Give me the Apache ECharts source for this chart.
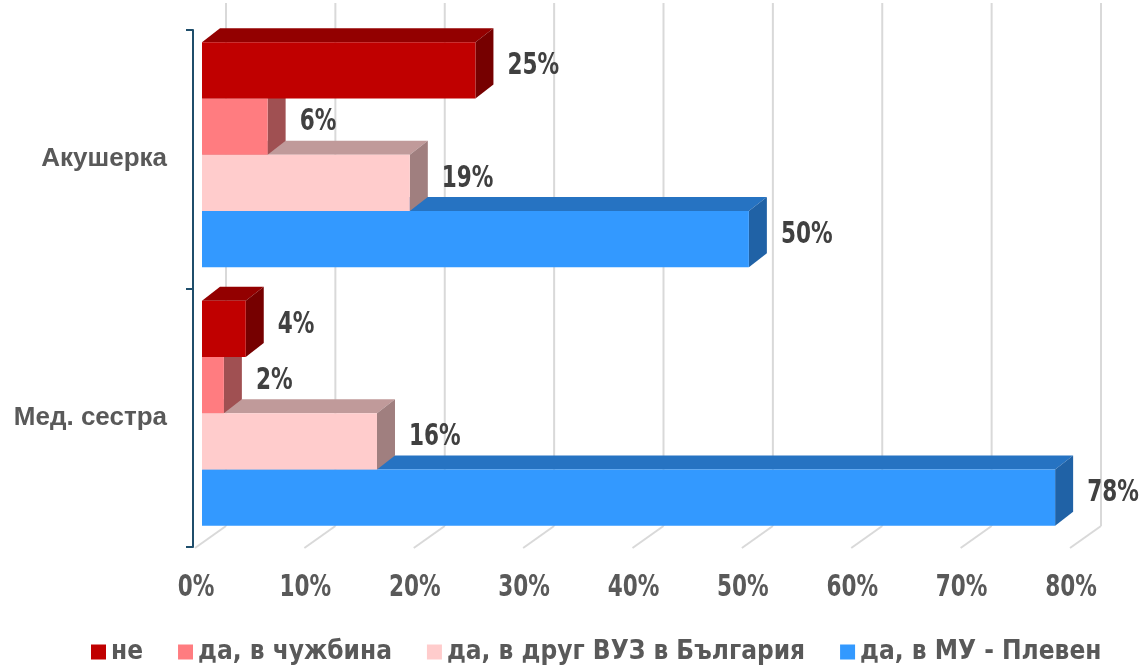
<!DOCTYPE html>
<html>
<head>
<meta charset="utf-8">
<script src="https://cdn.jsdelivr.net/npm/echarts@6/dist/echarts.min.js"></script>
<style>
  html, body { margin: 0; padding: 0; background: #fff; }
  #chart { width: 1145px; height: 670px; }
</style>
</head>
<body>
<div id="chart"></div>
<script>
// categories and values
const categories = ['Акушерка', 'Мед. сестра']
const seriesNames = ['не', 'да, в чужбина', 'да, в друг ВУЗ в България', 'да, в МУ - Плевен']
const valNe = [25, 4]
const valAbroad = [6, 2]
const valOtherUni = [19, 16]
const valPleven = [50, 78]
const xTicks = [0, 10, 20, 30, 40, 50, 60, 70, 80]

const seriesValues = [valNe, valAbroad, valOtherUni, valPleven]
// front / top / side shades for each series
const faceColors = [
  ['#C00000', '#930000', '#760000'],
  ['#FF7C80', '#C06266', '#A05052'],
  ['#FFCCCC', '#C09A9A', '#A07F7F'],
  ['#3399FF', '#2673C2', '#2062A6']
]
const narrow = '"Liberation Sans Narrow", "DejaVu Sans Condensed", "Arial Narrow", sans-serif'
const DX = 18 // depth of a bar, to the right
const DY = 14 // depth of a bar, upwards

const chart = echarts.init(document.getElementById('chart'))

// condensed font squeezed a bit to look like Arial Narrow
function narrowText(text, x, y, color, align) {
  return {
    type: 'text',
    x: x,
    y: y,
    scaleX: 0.8,
    style: {
      text: text,
      x: 0,
      y: 0,
      align: align,
      verticalAlign: 'middle',
      fill: color,
      fontSize: 30,
      fontWeight: 'bold',
      fontFamily: narrow
    }
  }
}

function barRenderer(idx) {
  return function (params, api) {
    const val = api.value(0)
    const cat = api.value(1)
    const p0 = api.coord([0, cat])
    const p1 = api.coord([val, cat])
    const band = api.size([0, 1])[1]
    const barH = band * 0.2176
    const cy = p0[1] - band * 0.0174 + (idx - 1.5) * barH
    const yT = cy - barH / 2
    const yB = cy + barH / 2
    const x0 = p0[0]
    const x1 = p1[0]
    const c = faceColors[idx]
    return {
      type: 'group',
      children: [
        {
          type: 'polygon',
          shape: { points: [[x0, yT], [x1, yT], [x1 + DX, yT - DY], [x0 + DX, yT - DY]] },
          style: { fill: c[1] }
        },
        {
          type: 'polygon',
          shape: { points: [[x1, yT], [x1 + DX, yT - DY], [x1 + DX, yB - DY], [x1, yB]] },
          style: { fill: c[2] }
        },
        {
          type: 'rect',
          shape: { x: x0, y: yT, width: x1 - x0, height: barH },
          style: { fill: c[0] }
        },
        narrowText(val + '%', x1 + 32, cy - 4, '#404040', 'left')
      ]
    }
  }
}

// back wall grid lines, floor lines and tick labels, one per tick
function gridRenderer(params, api) {
  const v = api.value(0)
  const x = api.coord([v, 0])[0]
  const cs = params.coordSys
  const yBack = cs.y + cs.height - 21
  const yFront = cs.y + cs.height + 1
  const style = { stroke: '#D9D9D9', lineWidth: 2 }
  return {
    type: 'group',
    children: [
      { type: 'line', shape: { x1: x + 24, y1: cs.y - 27, x2: x + 24, y2: yBack }, style: style },
      { type: 'line', shape: { x1: x + 24, y1: yBack, x2: x - 7, y2: yFront }, style: style },
      narrowText(v + '%', x - 6, yFront + 40, '#595959', 'center')
    ]
  }
}

const series = [{
  type: 'custom',
  name: 'grid',
  silent: true,
  clip: false,
  z: 1,
  renderItem: gridRenderer,
  data: xTicks.map(v => [v, 0])
}]
seriesNames.forEach((name, i) => {
  series.push({
    type: 'custom',
    name: name,
    clip: false,
    z: 10 + (3 - i),
    itemStyle: { color: faceColors[i][0] },
    renderItem: barRenderer(i),
    data: seriesValues[i].map((v, k) => [v, k])
  })
})

chart.setOption({
  backgroundColor: '#fff',
  animation: false,
  grid: {
    left: 202,
    right: 68,
    top: 30,
    bottom: 123
  },
  legend: {
    data: seriesNames,
    bottom: 0,
    left: 86,
    icon: 'rect',
    itemWidth: 15,
    itemHeight: 15,
    itemGap: 35,
    textStyle: {
      color: '#595959',
      fontSize: 26,
      fontWeight: 'bold',
      fontFamily: narrow
    }
  },
  xAxis: {
    type: 'value',
    min: 0,
    max: 80,
    interval: 10,
    axisLine: { show: false },
    axisTick: { show: false },
    splitLine: { show: false },
    axisLabel: { show: false }
  },
  yAxis: {
    type: 'category',
    inverse: true,
    data: categories,
    offset: 9,
    axisLine: { show: true, onZero: false, lineStyle: { color: '#1F4E6B', width: 2 } },
    axisTick: { show: true, length: 7, lineStyle: { color: '#1F4E6B', width: 2 } },
    axisLabel: {
      margin: 26,
      color: '#595959',
      fontSize: 26,
      fontWeight: 'bold',
      fontFamily: '"Liberation Sans", Arial, sans-serif'
    }
  },
  series: series
})
</script>
</body>
</html>
